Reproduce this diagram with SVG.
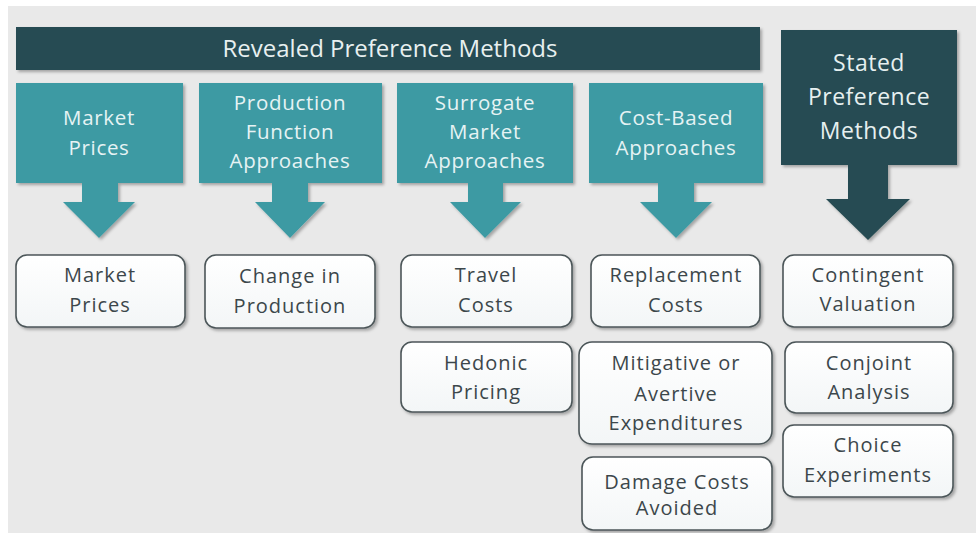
<svg xmlns="http://www.w3.org/2000/svg" width="976" height="533" viewBox="0 0 976 533">
<defs>
<filter id="sh" x="-10%" y="-10%" width="130%" height="130%">
<feDropShadow dx="2" dy="2" stdDeviation="1.5" flood-color="#000" flood-opacity="0.3"/>
</filter>
<linearGradient id="wg" x1="0" y1="0" x2="0" y2="1">
<stop offset="0" stop-color="#ffffff"/>
<stop offset="1" stop-color="#f3f6f7"/>
</linearGradient>
<style>
.teal{fill:#3d9aa3;filter:url(#sh)}
.dark{fill:#264c52;filter:url(#sh)}
.wbox{fill:url(#wg);stroke:#4c5659;stroke-width:1.6;filter:url(#sh)}
.tt{font-family:"Open Sans","DejaVu Sans",sans-serif;font-size:20.5px;letter-spacing:0.7px;fill:#e6f3f4;text-anchor:middle}
.st{font-family:"Open Sans","DejaVu Sans",sans-serif;font-size:23px;letter-spacing:0.5px;fill:#e6f0f0;text-anchor:middle}
.bt{font-family:"Open Sans","DejaVu Sans",sans-serif;font-size:24px;fill:#e8f0f0;text-anchor:middle}
.wt{font-family:"Open Sans","DejaVu Sans",sans-serif;font-size:20px;letter-spacing:1px;fill:#3c474b;text-anchor:middle}
</style>
</defs>
<rect x="0" y="0" width="976" height="533" fill="#ffffff"/>
<rect x="8" y="6" width="968" height="527" fill="#e9e9e9"/>

<g id="banner">
<rect class="dark" x="16" y="27" width="744" height="43"/>
<text class="bt" x="390" y="57">Revealed Preference Methods</text>
</g>

<g id="market-prices-method">
<path class="teal" d="M16,83 H183 V183 H118 V202 H135 L99,238 L63,202 H82 V183 H16 Z"/>
<text class="tt" x="99" y="125">Market</text>
<text class="tt" x="99" y="155">Prices</text>
</g>

<g id="production-function">
<path class="teal" d="M199,83 H382 V183 H308 V202 H325 L290,238 L255,202 H272 V183 H199 Z"/>
<text class="tt" x="290" y="110">Production</text>
<text class="tt" x="290" y="139">Function</text>
<text class="tt" x="290" y="168">Approaches</text>
</g>

<g id="surrogate-market">
<path class="teal" d="M397,83 H573 V183 H503 V202 H521 L485,238 L450,202 H468 V183 H397 Z"/>
<text class="tt" x="485" y="110">Surrogate</text>
<text class="tt" x="485" y="139">Market</text>
<text class="tt" x="485" y="168">Approaches</text>
</g>

<g id="cost-based">
<path class="teal" d="M589,83 H763 V183 H694 V202 H712 L676,238 L640,202 H658 V183 H589 Z"/>
<text class="tt" x="676" y="125">Cost-Based</text>
<text class="tt" x="676" y="155">Approaches</text>
</g>

<g id="stated-preference">
<path class="dark" d="M781,30 H957 V165 H888 V199 H910 L868,240 L826,199 H848 V165 H781 Z"/>
<text class="st" x="869" y="71">Stated</text>
<text class="st" x="869" y="105">Preference</text>
<text class="st" x="869" y="139">Methods</text>
</g>

<g id="connectors"></g>

<g id="market-prices">
<rect class="wbox" x="16" y="255" width="169" height="72" rx="11"/>
<text class="wt" x="100" y="282">Market</text>
<text class="wt" x="100" y="312">Prices</text>
</g>

<g id="change-in-production">
<rect class="wbox" x="205" y="255" width="170" height="73" rx="11"/>
<text class="wt" x="290" y="283">Change in</text>
<text class="wt" x="290" y="313">Production</text>
</g>

<g id="travel-costs">
<rect class="wbox" x="401" y="255" width="171" height="72" rx="11"/>
<text class="wt" x="486" y="282">Travel</text>
<text class="wt" x="486" y="312">Costs</text>
</g>

<g id="hedonic-pricing">
<rect class="wbox" x="401" y="342" width="171" height="70" rx="11"/>
<text class="wt" x="486" y="370">Hedonic</text>
<text class="wt" x="486" y="399">Pricing</text>
</g>

<g id="replacement-costs">
<rect class="wbox" x="591" y="255" width="169" height="72" rx="11"/>
<text class="wt" x="676" y="282">Replacement</text>
<text class="wt" x="676" y="312">Costs</text>
</g>

<g id="mitigative">
<rect class="wbox" x="579" y="342" width="193" height="102" rx="13"/>
<text class="wt" x="676" y="370">Mitigative or</text>
<text class="wt" x="676" y="401">Avertive</text>
<text class="wt" x="676" y="430">Expenditures</text>
</g>

<g id="damage-costs">
<rect class="wbox" x="582" y="457" width="190" height="73" rx="11"/>
<text class="wt" x="677" y="489">Damage Costs</text>
<text class="wt" x="677" y="515">Avoided</text>
</g>

<g id="contingent-valuation">
<rect class="wbox" x="783" y="255" width="170" height="72" rx="11"/>
<text class="wt" x="868" y="282">Contingent</text>
<text class="wt" x="868" y="311">Valuation</text>
</g>

<g id="conjoint-analysis">
<rect class="wbox" x="785" y="342" width="168" height="71" rx="11"/>
<text class="wt" x="869" y="370">Conjoint</text>
<text class="wt" x="869" y="399">Analysis</text>
</g>

<g id="choice-experiments">
<rect class="wbox" x="783" y="425" width="170" height="72" rx="11"/>
<text class="wt" x="868" y="452">Choice</text>
<text class="wt" x="868" y="482">Experiments</text>
</g>
</svg>
